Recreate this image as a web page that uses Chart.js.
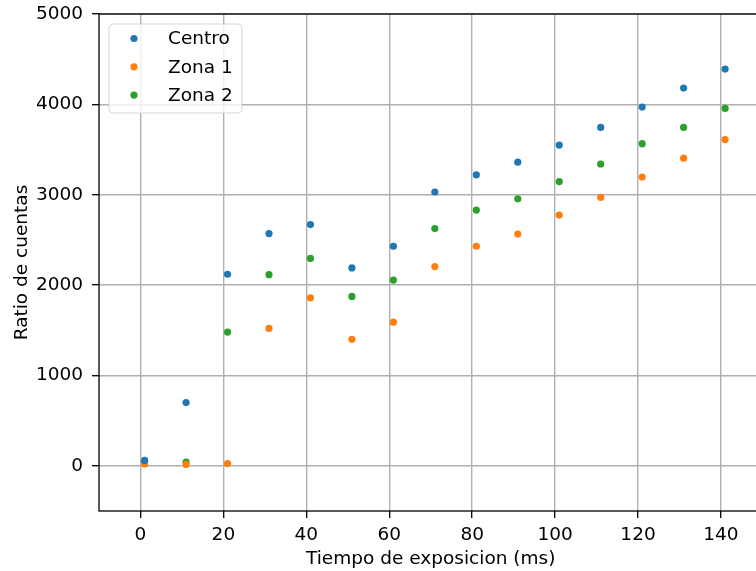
<!DOCTYPE html>
<html>
<head>
<meta charset="utf-8">
<script src="https://cdn.jsdelivr.net/npm/chart.js@4"></script>
<style>
  html, body { margin: 0; padding: 0; background: #fff; overflow: hidden; }
  #wrap { width: 766px; height: 571px; }
</style>
</head>
<body>
<div id="wrap"><canvas id="chart" width="766" height="571"></canvas></div>
<script>
const tiempos = [1, 11, 21, 31, 41, 51, 61, 71, 81, 91, 101, 111, 121, 131, 141];
const centro = [60, 700, 2120, 2570, 2670, 2190, 2430, 3030, 3220, 3360, 3550, 3745, 3970, 4180, 4390];
const zona1 = [20, 15, 25, 1520, 1860, 1400, 1590, 2205, 2430, 2565, 2775, 2970, 3195, 3405, 3610];
const zona2 = [50, 40, 1480, 2115, 2295, 1875, 2055, 2625, 2830, 2955, 3145, 3340, 3565, 3745, 3955];
const xTicks = [0, 20, 40, 60, 80, 100, 120, 140];
const yTicks = [0, 1000, 2000, 3000, 4000, 5000];

const FONT = "'DejaVu Sans', sans-serif";
const pts = (ys) => tiempos.map((x, i) => ({ x: x, y: ys[i] }));

const serie = (label, ys, color) => ({
  label: label,
  data: pts(ys),
  backgroundColor: color,
  borderWidth: 0,
  pointRadius: 3.6,
  pointHoverRadius: 3.6,
});

// legend + frame drawn by hand, matplotlib style
const extras = {
  id: "extras",
  afterDraw(chart) {
    const ctx = chart.ctx;
    const a = chart.chartArea;
    ctx.save();
    ctx.strokeStyle = "#000";
    ctx.lineWidth = 1.3;
    ctx.strokeRect(a.left, a.top, a.right - a.left, a.bottom - a.top);

    const bx = 109, by = 24, bw = 133, bh = 89, r = 4;
    ctx.beginPath();
    ctx.roundRect(bx, by, bw, bh, r);
    ctx.fillStyle = "rgba(255,255,255,0.8)";
    ctx.fill();
    ctx.strokeStyle = "rgba(204,204,204,0.8)";
    ctx.lineWidth = 1;
    ctx.stroke();

    ctx.font = "18.5px " + FONT;
    ctx.textBaseline = "middle";
    ctx.textAlign = "left";
    chart.data.datasets.forEach((ds, i) => {
      const y = 38.5 + i * 28.3;
      ctx.beginPath();
      ctx.arc(134, y, 3.6, 0, Math.PI * 2);
      ctx.fillStyle = ds.backgroundColor;
      ctx.fill();
      ctx.fillStyle = "#000";
      ctx.fillText(ds.label, 168, y + 1);
    });
    ctx.restore();
  },
};

const plain = (v) => String(v);

new Chart(document.getElementById("chart"), {
  type: "scatter",
  data: {
    datasets: [
      serie("Centro", centro, "#1f77b4"),
      serie("Zona 1", zona1, "#ff7f0e"),
      serie("Zona 2", zona2, "#2ca02c"),
    ],
  },
  options: {
    responsive: false,
    animation: false,
    devicePixelRatio: 1,
    layout: { padding: { top: 14, left: 0, right: 0, bottom: 0 } },
    plugins: { legend: { display: false }, tooltip: { enabled: false } },
    scales: {
      x: {
        type: "linear",
        min: -10,
        max: 150,
        afterBuildTicks: (s) => { s.ticks = xTicks.map((v) => ({ value: v })); },
        afterFit: (s) => { s.height = 60; s.paddingLeft = 0; s.paddingRight = 0; },
        grid: { color: "#b0b0b0", lineWidth: 1.4, tickLength: 7, tickColor: "#000", tickWidth: 1.3 },
        border: { display: false },
        ticks: { color: "#000", font: { family: FONT, size: 18.5 }, padding: 6, maxRotation: 0, autoSkip: false, callback: plain },
        title: { display: true, text: "Tiempo de exposicion (ms)", color: "#000", font: { family: FONT, size: 18.5 }, padding: { top: 1, bottom: 1 } },
      },
      y: {
        type: "linear",
        min: -500,
        max: 5000,
        afterBuildTicks: (s) => { s.ticks = yTicks.map((v) => ({ value: v })); },
        afterFit: (s) => { s.width = 99; s.paddingTop = 0; s.paddingBottom = 0; },
        grid: { color: "#b0b0b0", lineWidth: 1.4, tickLength: 7, tickColor: "#000", tickWidth: 1.3 },
        border: { display: false },
        ticks: { color: "#000", font: { family: FONT, size: 18.5 }, padding: 9, autoSkip: false, callback: plain },
        title: { display: true, text: "Ratio de cuentas", color: "#000", font: { family: FONT, size: 18.5 }, padding: { top: 11, bottom: 11 } },
      },
    },
  },
  plugins: [extras],
});
</script>
</body>
</html>
